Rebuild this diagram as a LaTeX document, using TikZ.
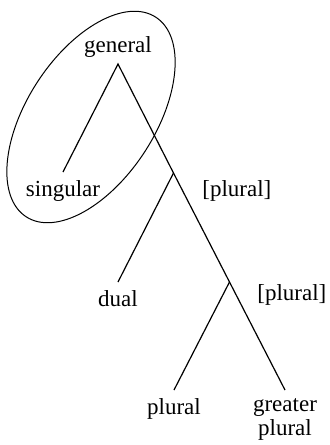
\documentclass[tikz,border=0pt]{standalone}
\usepackage{fontspec}
\setmainfont{Liberation Serif}
\usepackage{tikz}
\usetikzlibrary{positioning}
\tikzset{every node/.style={font=\fontsize{11.5}{12}\selectfont},
 leaf/.style={anchor=north,inner xsep=1pt,inner ysep=4pt,align=center},
 feat/.style={anchor=west,inner sep=0pt},
 br/.style={line width=0.6pt}}

\begin{document}
\begin{tikzpicture}[x=0.5pt,y=-0.5pt]
 \useasboundingbox (0,0) rectangle (329,445);
 	   % branch points
 	   \coordinate (top) at (118,64);
 	   \coordinate (b1) at (173.5,173);
 	   \coordinate (b2) at (229.5,282);
 	   \node[anchor=south,inner ysep=3pt] (general) at (top) {general};
 	   \node[leaf] (singular) at (63,172) {singular};
 	   \node[leaf] (dual) at (118,282) {dual};
 	   \node[leaf] (plural) at (174,390) {plural};
 	   \node[leaf] (greater) at (285,390) {greater\\plural};
 	   \node[feat] (pl1) at (202,191) {[plural]};
 	   \node[feat] (pl2) at (257,295) {[plural]};
 	   
 	   \draw[br] (singular.north)--(top)--(b1)--(b2)--(greater.north);
 	   \draw[br] (b1)--(dual.north) (b2)--(plural.north);
 	   
 	   \coordinate (c) at (91,117);
 	   \draw[line width=0.5pt,rotate around={57:(c)}] (c) ellipse [x radius=59.5pt,y radius=32pt];
\end{tikzpicture}
\end{document}
